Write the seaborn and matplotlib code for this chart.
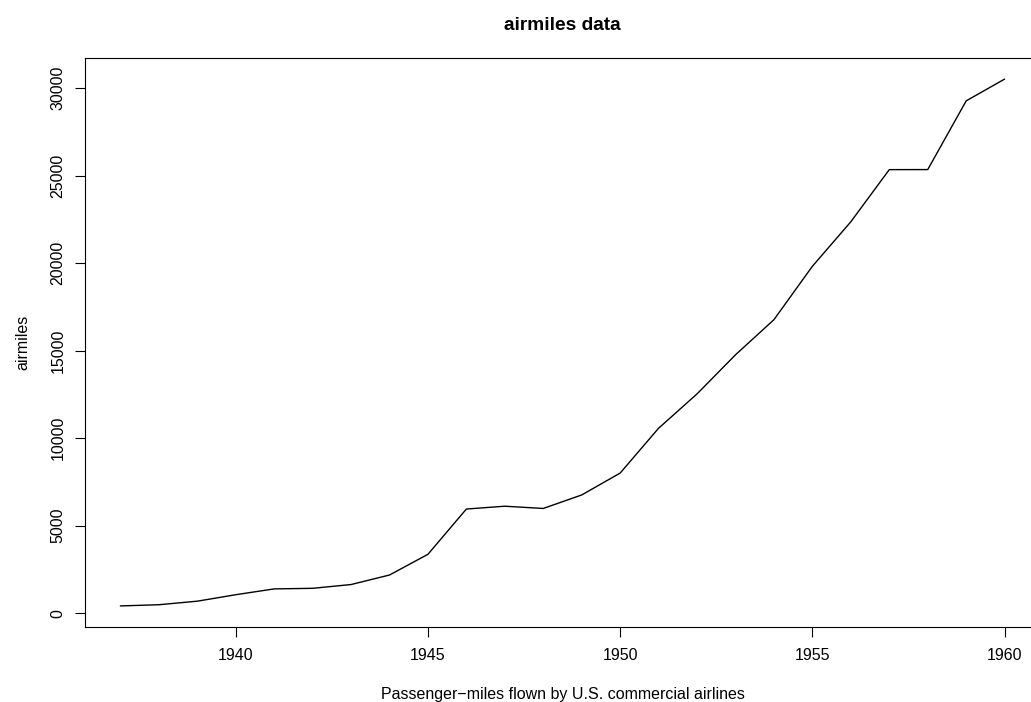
import matplotlib
matplotlib.use("Agg")
import matplotlib.pyplot as plt
import seaborn as sns
import pandas as pd

# airmiles data (R datasets)
years = list(range(1937, 1961))
airmiles = [412, 480, 683, 1052, 1385, 1418, 1634, 2178, 3362, 5948, 6109, 5981,
            6753, 8003, 10566, 12528, 14760, 16769, 19819, 22362, 25340, 25343,
            29269, 30514]

sns.set_theme(style="ticks")
plt.rcParams['font.family'] = ['Liberation Sans', 'DejaVu Sans']
plt.rcParams['text.color'] = 'black'
plt.rcParams['axes.labelcolor'] = 'black'

df = pd.DataFrame({"year": years, "airmiles": airmiles})

fig = plt.figure(figsize=(10.31, 7.02), dpi=100)
# the plot box runs past the right edge of the figure, as in the reference
ax = fig.add_axes([85 / 1031, 1 - 627 / 702, (1040 - 85) / 1031, (627 - 58) / 702])

sns.lineplot(data=df, x="year", y="airmiles", ax=ax, color="black", lw=1)

xpad = (max(years) - min(years)) * 0.04
ypad = (max(airmiles) - min(airmiles)) * 0.04
ax.set_xlim(min(years) - xpad, max(years) + xpad)
ax.set_ylim(min(airmiles) - ypad, max(airmiles) + ypad)

ax.set_xticks([1940, 1945, 1950, 1955, 1960])
ax.set_yticks([0, 5000, 10000, 15000, 20000, 25000, 30000])
ax.tick_params(axis="both", direction="out", length=7.2, width=0.8, colors="black",
               labelsize=11.5)
ax.tick_params(axis="x", pad=8)
ax.tick_params(axis="y", pad=7)
for lab in ax.get_yticklabels():
    lab.set_rotation(90)
    lab.set_va("center")

for s in ax.spines.values():
    s.set_visible(True)
    s.set_color("black")
    s.set_linewidth(0.8)

ax.set_xlabel("Passenger\u2212miles flown by U.S. commercial airlines", fontsize=11.5, labelpad=17)
ax.set_ylabel("airmiles", fontsize=11.5, labelpad=14.5)
ax.set_title("airmiles data", fontsize=13.8, fontweight="bold", pad=20.5, color="black")

fig.savefig("out.png", dpi=100)
